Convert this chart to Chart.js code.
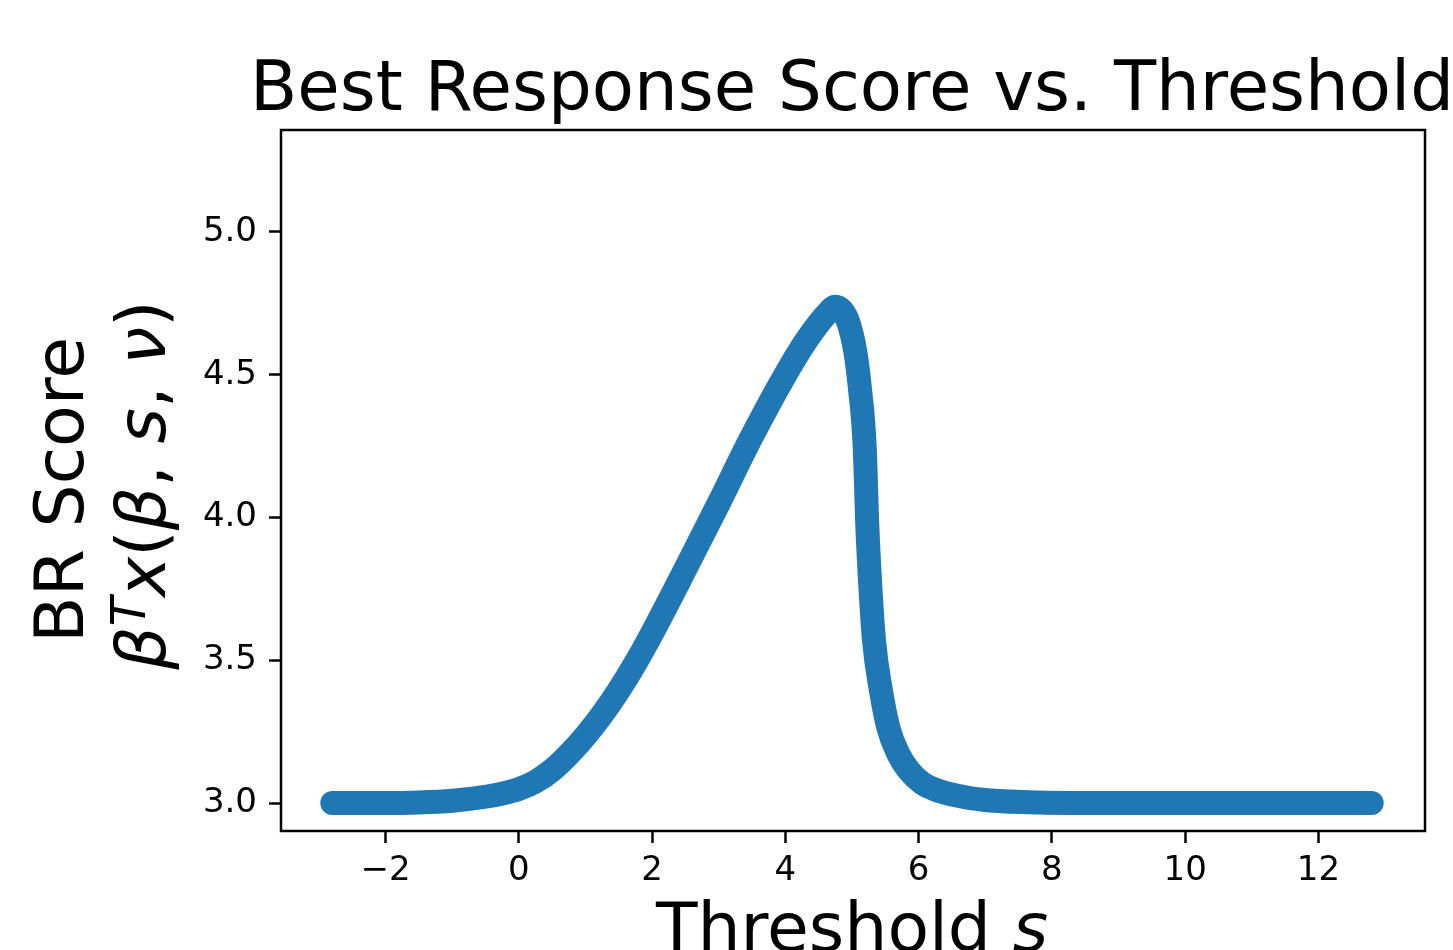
<!DOCTYPE html>
<html>
<head>
<meta charset="utf-8">
<script src="https://cdn.jsdelivr.net/npm/chart.js@4"></script>
<style>
  html, body { margin: 0; padding: 0; background: #fff; }
  canvas { display: block; }
</style>
</head>
<body>
<canvas id="br-chart" width="1453" height="950"></canvas>
<script>
// Best response score vs threshold

const thresholds = [-2.8, -2.0, -1.5, -1.0, -0.5, -0.25, 0.0, 0.25, 0.5, 0.75, 1.0, 1.25, 1.5, 1.75, 2.0, 2.5,
                    3.0, 3.5, 4.0, 4.3, 4.5, 4.65, 4.74, 4.85, 4.95, 5.05, 5.12, 5.19, 5.23, 5.27, 5.33,
                    5.43, 5.55, 5.7, 5.85, 6.05, 6.31, 6.7, 7.07, 7.8, 9.0, 12.8];
const scores     = [3.0, 3.0, 3.002, 3.008, 3.022, 3.033, 3.049, 3.075, 3.115, 3.17, 3.235, 3.31, 3.395, 3.49, 3.595, 3.82,
                    4.05, 4.285, 4.50, 4.615, 4.68, 4.72, 4.738, 4.725, 4.68, 4.58, 4.45, 4.25, 3.97, 3.78, 3.57,
                    3.40, 3.26, 3.17, 3.115, 3.07, 3.042, 3.02, 3.009, 3.002, 3.0, 3.0];

const xTicks = [-2, 0, 2, 4, 6, 8, 10, 12];
const yTicks = [3.0, 3.5, 4.0, 4.5, 5.0];

const FONT = '"DejaVu Sans", sans-serif';

// draws the frame, title and axis labels (matplotlib style)
const textPlugin = {
    id: 'mplText',
    afterDatasetsDraw(chart) {
        const ctx = chart.ctx;
        const a = chart.chartArea;
        ctx.save();

        // frame on all four sides
        ctx.strokeStyle = '#000';
        ctx.lineWidth = 2.5;
        ctx.strokeRect(a.left, a.top, a.right - a.left, a.bottom - a.top);

        ctx.fillStyle = '#000';
        ctx.textBaseline = 'alphabetic';

        // title
        ctx.font = '69px ' + FONT;
        ctx.textAlign = 'center';
        ctx.fillText('Best Response Score vs. Threshold', 852, 110);

        // x label: "Threshold s" with italic s
        ctx.textAlign = 'left';
        const xl1 = 'Threshold ';
        ctx.font = '68px ' + FONT;
        const w1 = ctx.measureText(xl1).width;
        ctx.font = 'italic 68px ' + FONT;
        const w2 = ctx.measureText('s').width;
        let x0 = 852 - (w1 + w2) / 2;
        ctx.font = '68px ' + FONT;
        ctx.fillText(xl1, x0, 951);
        ctx.font = 'italic 68px ' + FONT;
        ctx.fillText('s', x0 + w1, 951);

        // y label line 1
        ctx.save();
        ctx.translate(83, 490);
        ctx.rotate(-Math.PI / 2);
        ctx.font = '68px ' + FONT;
        ctx.textAlign = 'center';
        ctx.fillText('BR Score', 0, 0);
        ctx.restore();

        // y label line 2: beta^T x(beta, s, nu)
        const parts = [
            {t: 'β', f: 'italic 68px '},
            {t: 'T', f: 'italic 48px ', up: 20},
            {t: 'x', f: 'italic 68px '},
            {t: '(', f: '68px '},
            {t: 'β', f: 'italic 68px '},
            {t: ', ', f: '68px '},
            {t: 's', f: 'italic 68px '},
            {t: ', ', f: '68px '},
            {t: 'ν', f: 'italic 68px '},
            {t: ')', f: '68px '}
        ];
        let total = 0;
        parts.forEach(p => {
            ctx.font = p.f + FONT;
            p.w = ctx.measureText(p.t).width;
            total += p.w;
        });
        ctx.save();
        ctx.translate(165, 485);
        ctx.rotate(-Math.PI / 2);
        ctx.textAlign = 'left';
        let cx = -total / 2;
        parts.forEach(p => {
            ctx.font = p.f + FONT;
            ctx.fillText(p.t, cx, p.up ? -p.up : 0);
            cx += p.w;
        });
        ctx.restore();

        ctx.restore();
    }
};

const ctx = document.getElementById('br-chart');
const brChart = new Chart(ctx, {
    type: 'scatter',
    data: {
        datasets: [{
            label: 'BR score',
            data: thresholds.map((x, i) => ({x: x, y: scores[i]})),
            showLine: true,
            borderColor: '#1f77b4',
            backgroundColor: '#1f77b4',
            borderWidth: 24,
            borderCapStyle: 'round',
            borderJoinStyle: 'round',
            cubicInterpolationMode: 'monotone',
            pointRadius: 0,
            clip: false
        }]
    },
    options: {
        responsive: false,
        animation: false,
        devicePixelRatio: 1,
        layout: {
            padding: {top: 130, right: 28, left: 0, bottom: 0}
        },
        scales: {
            x: {
                type: 'linear',
                min: -3.57,
                max: 13.6,
                afterBuildTicks: axis => { axis.ticks = xTicks.map(v => ({value: v})); },
                afterFit: axis => { axis.height = 119; },
                grid: {
                    drawOnChartArea: false,
                    tickLength: 12,
                    tickWidth: 2.5,
                    tickColor: '#000'
                },
                border: {display: false},
                ticks: {
                    color: '#000',
                    padding: 8,
                    maxRotation: 0,
                    font: {family: FONT, size: 34},
                    callback: v => (v < 0 ? '\u2212' + Math.abs(v) : String(v))
                }
            },
            y: {
                type: 'linear',
                min: 2.902,
                max: 5.357,
                afterBuildTicks: axis => { axis.ticks = yTicks.map(v => ({value: v})); },
                afterFit: axis => { axis.width = 281; },
                grid: {
                    drawOnChartArea: false,
                    tickLength: 12,
                    tickWidth: 2.5,
                    tickColor: '#000'
                },
                border: {display: false},
                ticks: {
                    color: '#000',
                    padding: 12,
                    font: {family: FONT, size: 34},
                    callback: v => v.toFixed(1)
                }
            }
        },
        plugins: {
            legend: {display: false},
            tooltip: {enabled: false}
        }
    },
    plugins: [textPlugin]
});
</script>
</body>
</html>
